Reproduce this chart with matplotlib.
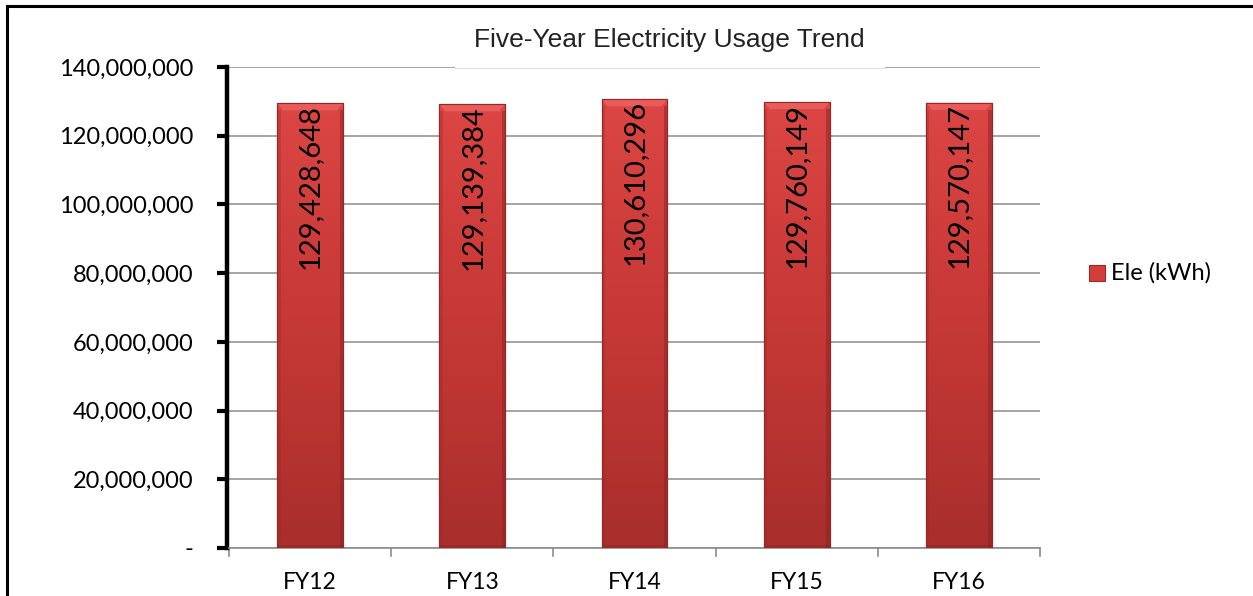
import numpy as np
import matplotlib
matplotlib.use("Agg")
import matplotlib.pyplot as plt
from matplotlib.colors import LinearSegmentedColormap
from matplotlib.patches import Rectangle, Polygon
from matplotlib.ticker import FuncFormatter

categories = ["FY12", "FY13", "FY14", "FY15", "FY16"]
usage_kwh = [129428648, 129139384, 130610296, 129760149, 129570147]
series_name = "Ele (kWh)"
title = "Five-Year Electricity Usage Trend"
y_ticks = [0, 20000000, 40000000, 60000000, 80000000, 100000000, 120000000, 140000000]

W, H = 1253, 596
fig = plt.figure(figsize=(W / 100, H / 100), dpi=100)
fig.patch.set_facecolor("white")

# outer frame (left + top visible)
fig.add_artist(plt.Line2D([6.5 / W, 6.5 / W], [0, 1 - 5.5 / H], transform=fig.transFigure,
                          color="black", lw=2.2))
fig.add_artist(plt.Line2D([6.5 / W, 1], [1 - 5.5 / H, 1 - 5.5 / H], transform=fig.transFigure,
                          color="black", lw=2.2))

left, right, bottom, top = 229 / W, 1040 / W, 1 - 548 / H, 1 - 67 / H
ax = fig.add_axes([left, bottom, right - left, top - bottom])
ax.set_xlim(-0.5, len(categories) - 0.5)
ax.set_ylim(0, 140000000)

x = np.arange(len(categories))
bar_w = 0.405
cmap = LinearSegmentedColormap.from_list("bar", ["#dc4644", "#cd3c3a", "#bd3532", "#a82e2c"])
bars = ax.bar(x, usage_kwh, width=bar_w, color="#c93a38", edgecolor="#8f2624",
              linewidth=0.8, zorder=3)
grad = np.linspace(0, 1, 256).reshape(-1, 1)
px_y = 140000000 / 481.0
px_x = 5.0 / 812.0
for b in bars:
    bx, by, bw, bh = b.get_x(), b.get_y(), b.get_width(), b.get_height()
    im = ax.imshow(grad, cmap=cmap, aspect="auto", extent=[bx, bx + bw, by, by + bh],
                   origin="upper", zorder=3.1, interpolation="bicubic")
    im.set_clip_path(b)
    # bevel highlight near top (trapezoid)
    bev_h = 7 * px_y
    bev_w = 6 * px_x
    ax.add_patch(Polygon([(bx, by + bh), (bx + bw, by + bh), (bx + bw - bev_w, by + bh - bev_h),
                          (bx + bev_w, by + bh - bev_h)], closed=True,
                         facecolor="#ea5c5a", edgecolor="none", zorder=3.2))
    # darker side edges
    ax.add_patch(Rectangle((bx, by), bw * 0.05, bh - bev_h, facecolor="#9e2a28", alpha=0.35,
                           edgecolor="none", zorder=3.2))
    ax.add_patch(Rectangle((bx + bw * 0.95, by), bw * 0.05, bh - bev_h, facecolor="#8a2422",
                           alpha=0.5, edgecolor="none", zorder=3.2))
    ax.add_patch(Rectangle((bx, by), bw, 3 * px_y, facecolor="#8a2422", alpha=0.4,
                           edgecolor="none", zorder=3.2))
    ax.add_patch(Rectangle((bx, by), bw, bh, facecolor="none", edgecolor="#952826",
                           linewidth=0.8, zorder=3.3))

for xi, v in zip(x, usage_kwh):
    ax.text(xi, v - 0.5 * px_y, f"{v:,}", rotation=90, ha="center", va="top",
            fontsize=21, family="Lato", color="black", zorder=4)

ax.set_yticks(y_ticks)
ax.yaxis.set_major_formatter(FuncFormatter(lambda v, p: "-" if v == 0 else f"{int(v):,}"))
ax.grid(axis="y", color="#8c8c8c", linewidth=1.1, zorder=0)
ax.set_axisbelow(True)

ax.set_xticks(x)
ax.set_xticklabels(categories)
ax.tick_params(axis="x", length=0, pad=17, labelsize=16.5, labelfontfamily="Lato")
for xb in np.arange(-0.5, len(categories) + 0.1, 1.0):
    ax.plot([xb, xb], [0, -8 / 481], transform=ax.get_xaxis_transform(), color="#8c8c8c",
            lw=1.2, clip_on=False)

ax.tick_params(axis="y", length=7, width=3, color="black", pad=17, labelsize=17,
               labelfontfamily="Lato")

for s in ["top", "right"]:
    ax.spines[s].set_visible(False)
ax.spines["left"].set_linewidth(3.2)
ax.spines["left"].set_color("black")
ax.spines["left"].set_position(("outward", 1.5))
ax.spines["bottom"].set_color("#8c8c8c")
ax.spines["bottom"].set_linewidth(1.2)

fig.text(669 / W, 1 - 40 / H, title, ha="center", va="center", family="Liberation Sans",
         fontsize=19, color="#222222")
fig.add_artist(Rectangle((455 / W, 1 - 69 / H), 430 / W, 4 / H, transform=fig.transFigure,
                         facecolor="white", edgecolor="none", zorder=5))
fig.add_artist(plt.Line2D([455 / W, 885 / W], [1 - 67.5 / H, 1 - 67.5 / H],
                          transform=fig.transFigure, color="#e2e2e2", lw=1, zorder=6))

# legend
fig.add_artist(Rectangle((1089 / W, 1 - 281 / H), 16 / W, 16 / H, transform=fig.transFigure,
                         facecolor="#d23e3c", edgecolor="#9e2a28", lw=0.8))
fig.text(1111 / W, 1 - 273 / H, series_name, ha="left", va="center", family="Lato",
         fontsize=17, color="black")

fig.savefig("out.png", dpi=100)
